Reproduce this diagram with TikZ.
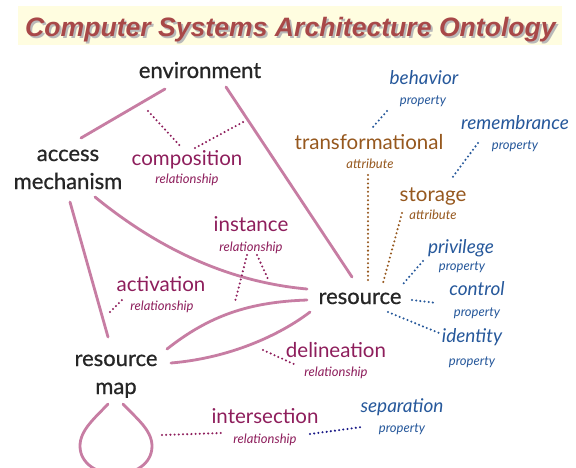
\documentclass[tikz,border=0pt]{standalone}
\usepackage{fontspec}
\setmainfont{Lato}
\newfontfamily\titlefont{Liberation Sans}
\newfontfamily\blkfont[FakeBold=0.7]{Lato}
\definecolor{solidc}{RGB}{199,125,163}
\definecolor{relc}{RGB}{142,30,92}
\definecolor{attc}{RGB}{150,88,30}
\definecolor{propc}{RGB}{38,88,155}
\definecolor{navyc}{RGB}{25,25,135}
\definecolor{titlec}{RGB}{168,72,72}
\definecolor{titlebg}{RGB}{255,253,224}
\begin{document}
\begin{tikzpicture}[x=1pt,y=-1pt,
  blk/.style={anchor=base,inner sep=0pt,text=black!85,font=\blkfont\fontsize{22}{28}\selectfont,align=center},
  relw/.style={anchor=base,inner sep=0pt,text=relc,font=\fontsize{20.5}{24}\selectfont},
  attw/.style={anchor=base,inner sep=0pt,text=attc,font=\fontsize{20.5}{24}\selectfont},
  propw/.style={anchor=base,inner sep=0pt,text=propc,font=\fontsize{19}{23}\selectfont\itshape},
  relsub/.style={anchor=base,inner sep=0pt,text=relc,font=\fontsize{13}{15}\selectfont\itshape},
  attsub/.style={anchor=base,inner sep=0pt,text=attc,font=\fontsize{13}{15}\selectfont\itshape},
  propsub/.style={anchor=base,inner sep=0pt,text=propc,font=\fontsize{13}{15}\selectfont\itshape},
  solidline/.style={draw=solidc,line width=2.8pt,line cap=round},
  dotline/.style={line width=2.3pt,line cap=round,dash pattern=on 0pt off 4.2pt},
  reldots/.style={dotline,draw=relc},
  attdots/.style={dotline,draw=attc},
  propdots/.style={dotline,draw=propc},
  navydots/.style={dotline,draw=navyc}]
\useasboundingbox (0,0) rectangle (576,467);
\fill[white] (0,0) rectangle (576,467);
% title
\fill[titlebg] (18,6) rectangle (562,45);
\node[anchor=base,inner sep=0pt,text=gray!55,font=\titlefont\fontsize{26.6}{30}\selectfont\bfseries\itshape] (titleshadow) at (292.5,38) {Computer Systems Architecture Ontology};
\node[anchor=base,inner sep=0pt,text=titlec,font=\titlefont\fontsize{26.6}{30}\selectfont\bfseries\itshape] (title) at (290.5,36) {Computer Systems Architecture Ontology};
% main nodes
\node[blk] (env) at (200,78) {environment};
\node[blk] (acc) at (68,189) {access\\mechanism};
\node[blk] (res) at (360,304) {resource};
\node[blk] (rmap) at (116,394) {resource\\map};
% relationships
\node[relw] (comp) at (187,165) {composition};
\node[relsub] (compsub) at (187,183) {relationship};
\node[relw] (inst) at (251,231) {instance};
\node[relsub] (instsub) at (251,251) {relationship};
\node[relw] (act) at (161,291) {activation};
\node[relsub] (actsub) at (162,310) {relationship};
\node[relw] (del) at (336,357) {delineation};
\node[relsub] (delsub) at (336,376) {relationship};
\node[relw] (inter) at (265,423) {intersection};
\node[relsub] (intersub) at (265,443) {relationship};
% attributes
\node[attw] (trans) at (369,149) {transformational};
\node[attsub] (transsub) at (370,168) {attribute};
\node[attw] (stor) at (433,201) {storage};
\node[attsub] (storsub) at (433,219) {attribute};
% properties
\node[propw] (beh) at (424,84) {behavior};
\node[propsub] (behsub) at (423,104) {property};
\node[propw] (rem) at (515,129) {remembrance};
\node[propsub] (remsub) at (515,149) {property};
\node[propw] (priv) at (461,253) {privilege};
\node[propsub] (privsub) at (462,270) {property};
\node[propw] (ctrl) at (477,295) {control};
\node[propsub] (ctrlsub) at (477,316) {property};
\node[propw] (ident) at (472,342) {identity};
\node[propsub] (identsub) at (472,365) {property};
\node[propw] (sep) at (402,412) {separation};
\node[propsub] (sepsub) at (402,432) {property};
% connector end points
\coordinate (envA) at (165,89);  \coordinate (accA) at (81,138);
\coordinate (envB) at (226,87);  \coordinate (resA) at (352,277);
\coordinate (accB) at (95,197);  \coordinate (resB) at (307,289);
\coordinate (accC) at (70,202);  \coordinate (rmapA) at (108,337);
\coordinate (rmapB) at (167,349); \coordinate (resC) at (307,300);
\coordinate (rmapC) at (171,363); \coordinate (resD) at (310,312);
\coordinate (rmapL) at (108,404); \coordinate (rmapR) at (123,404);
% solid connectors
\draw[solidline] (envA) -- (accA);
\draw[solidline] (envB) -- (resA);
\draw[solidline] (accB) .. controls (160,250) and (230,282) .. (resB);
\draw[solidline] (accC) -- (rmapA);
\draw[solidline] (rmapB) .. controls (210,315) and (250,302) .. (resC);
\draw[solidline] (rmapC) .. controls (230,358) and (280,335) .. (resD);
\draw[solidline] (rmapL) .. controls (95,418) and (80,430) .. (80,446)
  .. controls (80,464) and (98,474) .. (116,474)
  .. controls (135,474) and (152,464) .. (152,446)
  .. controls (152,430) and (136,418) .. (rmapR);
% dotted connectors
\coordinate (c1a) at (148,111); \coordinate (c1b) at (182,148);
\coordinate (c2a) at (195,148); \coordinate (c2b) at (245,121);
\draw[reldots] (c1a) -- (c1b);
\draw[reldots] (c2a) -- (c2b);
\coordinate (i1a) at (247,255); \coordinate (i1b) at (235,302);
\coordinate (i2a) at (257,255); \coordinate (i2b) at (268,279);
\draw[reldots] (i1a) -- (i1b);
\draw[reldots] (i2a) -- (i2b);
\coordinate (a1a) at (110,312); \coordinate (a1b) at (123,299);
\draw[reldots] (a1a) -- (a1b);
\coordinate (d1a) at (263,350); \coordinate (d1b) at (296,365);
\draw[reldots] (d1a) -- (d1b);
\coordinate (x1a) at (162,435); \coordinate (x1b) at (222,433);
\draw[reldots] (x1a) -- (x1b);
\coordinate (s1a) at (310,434); \coordinate (s1b) at (362,427);
\draw[navydots] (s1a) -- (s1b);
\coordinate (t1a) at (368,175); \coordinate (t1b) at (368,283);
\draw[attdots] (t1a) -- (t1b);
\coordinate (g1a) at (402,213); \coordinate (g1b) at (383,283);
\draw[attdots] (g1a) -- (g1b);
\coordinate (b1a) at (387,111); \coordinate (b1b) at (373,127);
\draw[propdots] (b1a) -- (b1b);
\coordinate (m1a) at (478,143); \coordinate (m1b) at (452,178);
\draw[propdots] (m1a) -- (m1b);
\coordinate (p1a) at (423,261); \coordinate (p1b) at (403,284);
\draw[propdots] (p1a) -- (p1b);
\coordinate (k1a) at (412,300); \coordinate (k1b) at (437,303);
\draw[propdots] (k1a) -- (k1b);
\coordinate (e1a) at (388,312); \coordinate (e1b) at (439,333);
\draw[propdots] (e1a) -- (e1b);
\end{tikzpicture}
\end{document}
